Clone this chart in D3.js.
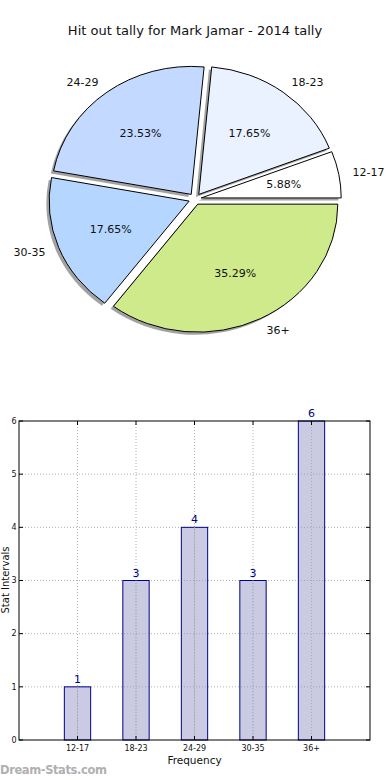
<!DOCTYPE html>
<html>
<head>
<meta charset="utf-8">
<script src="https://cdn.jsdelivr.net/npm/d3@7"></script>
<style>
  body { margin: 0; background: #fff; }
  svg { display: block; font-family: "DejaVu Sans", sans-serif; }
</style>
</head>
<body>
<div id="chart"></div>
<script>

// data
const categories = ["12-17", "18-23", "24-29", "30-35", "36+"];
const counts = [1, 3, 4, 3, 6];
const sliceColors = ["#ffffff", "#ebf2ff", "#c4d9ff", "#b4d6ff", "#cfea8b"];
const yTicks = [0, 1, 2, 3, 4, 5, 6];

const W = 390, H = 780;

const svg = d3.select("#chart").append("svg")
    .attr("width", W)
    .attr("height", H);

// title
svg.append("text")
    .attr("x", 195)
    .attr("y", 35)
    .attr("text-anchor", "middle")
    .style("font-size", "13px")
    .style("fill", "#111")
    .text("Hit out tally for Mark Jamar - 2014 tally");

/* ---------- pie ---------- */
let cx = 195, cy = 199, rx = 140, ry = 128;
let R = 100;            // draw on a circle then stretch to ellipse
let explode = 0.045;
let total = d3.sum(counts);

// start at 3 o'clock, go counter-clockwise (like matplotlib)
let pie = d3.pie().sort(null)
    .startAngle(Math.PI / 2)
    .endAngle(Math.PI / 2 - 2 * Math.PI);
let arcs = pie(counts);
let arc = d3.arc().innerRadius(0).outerRadius(R);

let pieG = svg.append("g");

function dirOf(d) {
    let a = (d.startAngle + d.endAngle) / 2;
    return [Math.sin(a), -Math.cos(a)];
}

// shadows first
arcs.forEach((d, i) => {
    let [ux, uy] = dirOf(d);
    let ox = cx + explode * rx * ux - 0.02 * rx;
    let oy = cy + explode * ry * uy + 0.02 * ry;
    pieG.append("path")
        .attr("d", arc(d))
        .attr("transform", `translate(${ox},${oy}) scale(${rx / R},${ry / R})`)
        .attr("fill", "#555")
        .attr("opacity", 0.55);
});

arcs.forEach((d, i) => {
    let [ux, uy] = dirOf(d);
    let ox = cx + explode * rx * ux;
    let oy = cy + explode * ry * uy;
    pieG.append("path")
        .attr("d", arc(d))
        .attr("transform", `translate(${ox},${oy}) scale(${rx / R},${ry / R})`)
        .attr("fill", sliceColors[i])
        .attr("stroke", "#000")
        .attr("stroke-width", 1)
        .attr("vector-effect", "non-scaling-stroke");

    // outer label
    let lx = ox + 1.1 * rx * ux;
    let ly = oy + 1.1 * ry * uy;
    pieG.append("text")
        .attr("x", lx)
        .attr("y", ly)
        .attr("dy", "0.35em")
        .attr("text-anchor", ux > 0 ? "start" : "end")
        .style("font-size", "11px")
        .style("fill", "#111")
        .text(categories[i]);

    // percent label
    pieG.append("text")
        .attr("x", ox + 0.6 * rx * ux)
        .attr("y", oy + 0.6 * ry * uy)
        .attr("dy", "0.35em")
        .attr("text-anchor", "middle")
        .style("font-size", "11px")
        .style("fill", "#111")
        .text((counts[i] / total * 100).toFixed(2) + "%");
});

/* ---------- bars ---------- */
let plotL = 19, plotR = 370, plotT = 421, plotB = 740;

let x = d3.scaleLinear().domain([0, 6]).range([plotL, plotR]);
let y = d3.scaleLinear().domain([0, 6]).range([plotB, plotT]);
let barW = 0.45;

let barG = svg.append("g");

// grid
barG.selectAll(".vgrid")
    .data(categories)
    .enter().append("line")
    .attr("x1", (d, i) => x(i + 1)).attr("x2", (d, i) => x(i + 1))
    .attr("y1", plotT).attr("y2", plotB)
    .attr("stroke", "#b0b0b0")
    .attr("stroke-dasharray", "1,2");

barG.selectAll(".hgrid")
    .data(yTicks.slice(1, -1))
    .enter().append("line")
    .attr("x1", plotL).attr("x2", plotR)
    .attr("y1", d => y(d)).attr("y2", d => y(d))
    .attr("stroke", "#b0b0b0")
    .attr("stroke-dasharray", "1,2");

// bars
barG.selectAll("rect.bar")
    .data(counts)
    .enter().append("rect")
    .attr("class", "bar")
    .attr("x", (d, i) => x(i + 1 - barW / 2))
    .attr("y", d => y(d))
    .attr("width", x(barW) - x(0))
    .attr("height", d => y(0) - y(d))
    .attr("fill", "rgba(150,150,200,0.5)")
    .attr("stroke", "#00008b")
    .attr("stroke-width", 1);

// grid over bars
barG.selectAll(".vgrid2")
    .data(counts)
    .enter().append("line")
    .attr("x1", (d, i) => x(i + 1)).attr("x2", (d, i) => x(i + 1))
    .attr("y1", d => y(d)).attr("y2", plotB)
    .attr("stroke", "#aaa")
    .attr("stroke-dasharray", "1,2");

// value labels
barG.selectAll(".val")
    .data(counts)
    .enter().append("text")
    .attr("x", (d, i) => x(i + 1))
    .attr("y", d => y(d) - 4)
    .attr("text-anchor", "middle")
    .style("font-size", "11px")
    .style("fill", "#00008b")
    .text(d => d);

// frame
barG.append("rect")
    .attr("x", plotL).attr("y", plotT)
    .attr("width", plotR - plotL).attr("height", plotB - plotT)
    .attr("fill", "none")
    .attr("stroke", "#000")
    .attr("stroke-width", 1);

// ticks, inward on all sides
yTicks.forEach(t => {
    barG.append("line").attr("x1", plotL).attr("x2", plotL + 4)
        .attr("y1", y(t)).attr("y2", y(t)).attr("stroke", "#000");
    barG.append("line").attr("x1", plotR).attr("x2", plotR - 4)
        .attr("y1", y(t)).attr("y2", y(t)).attr("stroke", "#000");
    barG.append("text")
        .attr("x", plotL - 2.5).attr("y", y(t))
        .attr("dy", "0.35em")
        .attr("text-anchor", "end")
        .style("font-size", "8px")
        .style("fill", "#111")
        .text(t);
});

categories.forEach((c, i) => {
    barG.append("line").attr("x1", x(i + 1)).attr("x2", x(i + 1))
        .attr("y1", plotB).attr("y2", plotB - 4).attr("stroke", "#000");
    barG.append("line").attr("x1", x(i + 1)).attr("x2", x(i + 1))
        .attr("y1", plotT).attr("y2", plotT + 4).attr("stroke", "#000");
    barG.append("text")
        .attr("x", x(i + 1)).attr("y", plotB + 11)
        .attr("text-anchor", "middle")
        .style("font-size", "8px")
        .style("fill", "#111")
        .text(c);
});

// axis titles
barG.append("text")
    .attr("x", (plotL + plotR) / 2)
    .attr("y", 764)
    .attr("text-anchor", "middle")
    .style("font-size", "10.5px")
    .style("fill", "#111")
    .text("Frequency");

barG.append("text")
    .attr("transform", "translate(8.5,580) rotate(-90)")
    .attr("text-anchor", "middle")
    .style("font-size", "10px")
    .style("fill", "#111")
    .text("Stat Intervals");

// watermark
svg.append("text")
    .attr("x", 0)
    .attr("y", 774)
    .style("font-size", "11.5px")
    .style("font-weight", "bold")
    .style("fill", "#b0b0b0")
    .style("letter-spacing", "-0.4px")
    .text("Dream-Stats.com");

</script>
</body>
</html>
